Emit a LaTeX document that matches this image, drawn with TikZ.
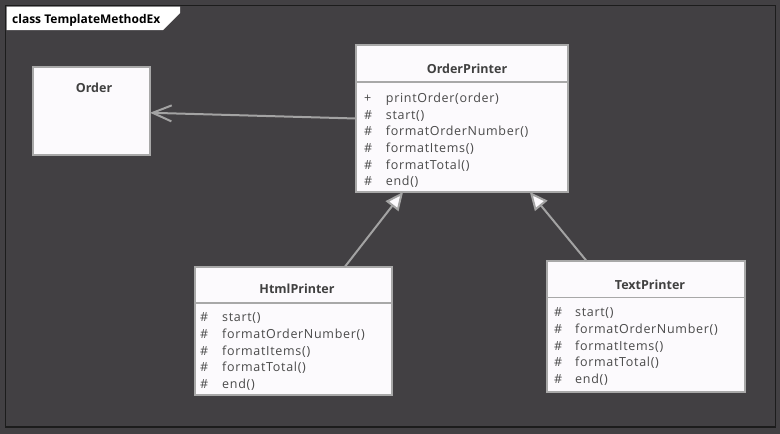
\documentclass[tikz,border=0pt]{standalone}
\usepackage{fontspec}
\setmainfont{Open Sans}
\newfontfamily\memberfont[LetterSpace=5.5]{Open Sans}
\usetikzlibrary{arrows.meta,calc}
\definecolor{bg}{HTML}{424043}
\definecolor{frameline}{HTML}{1C1C1C}
\definecolor{boxline}{HTML}{A8A8A8}
\definecolor{boxfill}{HTML}{FCFAFD}
\definecolor{txt}{HTML}{404040}
\definecolor{mtxt}{HTML}{4A4A4A}
\definecolor{conn}{HTML}{A3A3A3}
\begin{document}
\begin{tikzpicture}[x=1pt,y=-1pt,
  classbox/.style={draw=boxline, fill=boxfill, line width=2pt, inner sep=0pt, outer sep=0pt},
  sepline/.style={draw=boxline, line width=1.6pt},
  title/.style={font=\bfseries\fontsize{12.5}{14}\selectfont, text=txt, inner sep=0pt},
  member/.style={font=\memberfont\fontsize{12.5}{14}\selectfont, text=mtxt, inner sep=0pt},
  assoc/.style={draw=conn, line width=2pt, -{Straight Barb[length=19pt,width=16pt]}},
  inherit/.style={draw=conn, line width=2pt, -{Triangle[length=18pt,width=16pt,fill=boxfill]}}]
\useasboundingbox (0,0) rectangle (780,434);
\fill[bg] (0,0) rectangle (780,434);
\draw[frameline, line width=1.2pt] (5.5,5.5) rectangle (775.5,427);
\fill[white] (6.5,6.5) -- (180,6.5) -- (180,13) -- (163,30) -- (6.5,30) -- cycle;
\node[font=\bfseries\fontsize{12}{14}\selectfont, text=black, inner sep=0pt, anchor=base west] (hdr) at (12,23.5) {class TemplateMethodEx};

% Order
\node[classbox, minimum width=117pt, minimum height=88pt] (ord) at (91.5,111) {};
\node[title, anchor=base] (ord-t) at (94,92.3) {Order};

% OrderPrinter
\node[classbox, minimum width=212pt, minimum height=147pt] (op) at (462,118.5) {};
\node[title, anchor=base] (op-t) at (467,73.3) {OrderPrinter};
\draw[sepline] (op.west |- 0,82) -- (op.east |- 0,82);
\foreach [count=\i] \s/\m in {+/printOrder(order), \#/start(), \#/formatOrderNumber(), \#/formatItems(), \#/formatTotal(), \#/end()} {
  \node[member, anchor=base west] (op-s\i) at ({364},{102.3+16.7*(\i-1)}) {\s};
  \node[member, anchor=base west] (op-m\i) at ({385.7},{102.3+16.7*(\i-1)}) {\m};
}

% HtmlPrinter
\node[classbox, minimum width=197pt, minimum height=128pt] (hp) at (293.5,331) {};
\node[title, anchor=base] (hp-t) at (297,293.3) {HtmlPrinter};
\draw[sepline] (hp.west |- 0,303) -- (hp.east |- 0,303);
\foreach [count=\i] \s/\m in {\#/start(), \#/formatOrderNumber(), \#/formatItems(), \#/formatTotal(), \#/end()} {
  \node[member, anchor=base west] (hp-s\i) at ({200},{321.7+16.7*(\i-1)}) {\s};
  \node[member, anchor=base west] (hp-m\i) at ({222},{321.7+16.7*(\i-1)}) {\m};
}

% TextPrinter
\node[classbox, minimum width=198pt, minimum height=131pt] (tp) at (646,326.5) {};
\node[title, anchor=base] (tp-t) at (650,289) {TextPrinter};
\draw[sepline] (tp.west |- 0,297.5) -- (tp.east |- 0,297.5);
\foreach [count=\i] \s/\m in {\#/start(), \#/formatOrderNumber(), \#/formatItems(), \#/formatTotal(), \#/end()} {
  \node[member, anchor=base west] (tp-s\i) at ({554},{316.7+16.7*(\i-1)}) {\s};
  \node[member, anchor=base west] (tp-m\i) at ({575},{316.7+16.7*(\i-1)}) {\m};
}

% connectors
\draw[assoc] (op.west) -- ($(ord.north east)!0.52!(ord.south east)$);
\draw[inherit] ($(hp.north west)!0.76!(hp.north east)$) -- ($(op.south west)!0.222!(op.south east)$);
\draw[inherit] ($(tp.north west)!0.2!(tp.north east)$) -- ($(op.south west)!0.82!(op.south east)$);
\end{tikzpicture}
\end{document}
